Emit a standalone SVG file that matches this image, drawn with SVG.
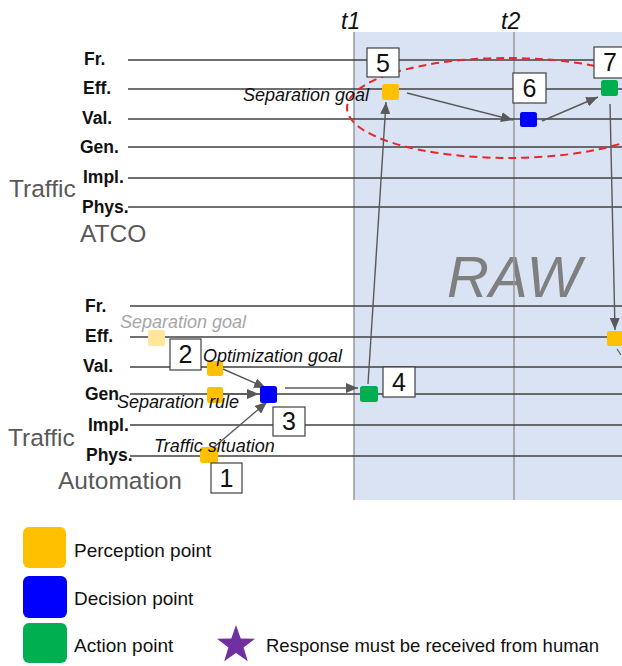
<svg xmlns="http://www.w3.org/2000/svg" width="622" height="666" viewBox="0 0 622 666">
<defs>
<marker id="ah" viewBox="0 0 12 10" refX="12" refY="5" markerWidth="12" markerHeight="10" markerUnits="userSpaceOnUse" orient="auto">
<path d="M0,0 L12,5 L0,10 Z" fill="#595959"/>
</marker>
<style>
.lvl{font-family:"Liberation Sans",Arial,sans-serif;font-weight:bold;font-size:17.5px;fill:#111}
.big{font-family:"Liberation Sans",Arial,sans-serif;font-size:24.5px;fill:#595959}
.it{font-family:"Liberation Sans",Arial,sans-serif;font-style:italic;font-size:18px;fill:#111}
.num{font-family:"Liberation Sans",Arial,sans-serif;font-size:25px;fill:#111;text-anchor:middle}
.tt{font-family:"Liberation Sans",Arial,sans-serif;font-style:italic;font-size:23px;fill:#111}
.leg{font-family:"Liberation Sans",Arial,sans-serif;font-size:19px;fill:#111}
.hl{stroke:#404040;stroke-width:1.5}
.vl{stroke:#999;stroke-width:1.5}
.box{fill:#fff;stroke:#404040;stroke-width:1.2}
.ar{stroke:#595959;stroke-width:1.4;fill:none;marker-end:url(#ah)}
.y{fill:#FFC000}
.b{fill:#0000FF}
.g{fill:#00B050}
</style>
</defs>
<rect x="354" y="32" width="268" height="468" fill="#DAE3F3"/>
<text x="447" y="297" font-family="Liberation Sans,Arial,sans-serif" font-style="italic" font-size="58" fill="#7F7F7F">RAW</text>
<g id="timelines">
<line class="vl" x1="354" y1="32" x2="354" y2="500"/>
<line class="vl" x1="514" y1="32" x2="514" y2="500"/>
<text class="tt" x="341" y="29">t1</text>
<text class="tt" x="501" y="29">t2</text>
</g>
<g id="atco-levels">
<line class="hl" x1="128" y1="60" x2="622" y2="60"/>
<line class="hl" x1="128" y1="89" x2="622" y2="89"/>
<line class="hl" x1="128" y1="119" x2="622" y2="119"/>
<line class="hl" x1="128" y1="147" x2="622" y2="147"/>
<line class="hl" x1="128" y1="178" x2="622" y2="178"/>
<line class="hl" x1="128" y1="207" x2="622" y2="207"/>
<text class="lvl" x="84" y="65">Fr.</text>
<text class="lvl" x="83" y="94">Eff.</text>
<text class="lvl" x="82" y="124">Val.</text>
<text class="lvl" x="80" y="153">Gen.</text>
<text class="lvl" x="83" y="183">Impl.</text>
<text class="lvl" x="82" y="213">Phys.</text>
<text class="big" x="9" y="197">Traffic</text>
<text class="big" x="80" y="242">ATCO</text>
</g>
<g id="auto-levels">
<line class="hl" x1="130" y1="306" x2="622" y2="306"/>
<line class="hl" x1="130" y1="337" x2="622" y2="337"/>
<line class="hl" x1="130" y1="367" x2="622" y2="367"/>
<line class="hl" x1="130" y1="394" x2="622" y2="394"/>
<line class="hl" x1="130" y1="425" x2="622" y2="425"/>
<line class="hl" x1="130" y1="456" x2="622" y2="456"/>
<text class="lvl" x="85" y="312">Fr.</text>
<text class="lvl" x="85" y="342">Eff.</text>
<text class="lvl" x="83" y="372">Val.</text>
<text class="lvl" x="85" y="400">Gen</text>
<text class="lvl" x="88" y="431">Impl.</text>
<text class="lvl" x="86" y="461">Phys.</text>
<text class="big" x="8" y="446">Traffic</text>
<text class="big" x="58" y="489">Automation</text>
</g>
<ellipse id="focus" cx="508" cy="108" rx="161" ry="50" fill="none" stroke="#E8262B" stroke-width="2" stroke-dasharray="8 5"/>
<g id="connectors">
<line class="ar" x1="407" y1="93" x2="513" y2="120"/>
<line class="ar" x1="542" y1="121" x2="598" y2="97"/>
<line class="ar" x1="368" y1="384" x2="386" y2="102"/>
<line class="ar" x1="610" y1="104" x2="615" y2="330"/>
<line class="ar" x1="223" y1="369" x2="266" y2="388"/>
<line class="ar" x1="223" y1="394" x2="259" y2="394"/>
<line class="ar" x1="213" y1="448" x2="267" y2="402"/>
<line class="ar" x1="285" y1="388" x2="358" y2="388"/>
<path d="M617,349 L621,355" stroke="#595959" stroke-width="1.2" fill="none"/>
</g>
<g id="faded-sep-goal">
<rect x="148" y="330" width="17" height="16" rx="2.5" fill="#FFE699"/>
<text class="it" x="120" y="328" style="fill:#A6A6A6">Separation goal</text>
</g>
<g id="node1">
<rect class="y" x="200" y="447" width="18" height="16" rx="2.5"/>
<text class="it" x="154" y="452">Traffic situation</text>
<rect class="box" x="211" y="463" width="31" height="30"/>
<text class="num" x="226.5" y="487">1</text>
</g>
<g id="node2">
<rect class="box" x="170" y="339" width="31" height="31"/>
<text class="num" x="185.5" y="363">2</text>
<rect class="y" x="207" y="361" width="16" height="15" rx="2.5"/>
<text class="it" x="203" y="362">Optimization goal</text>
<rect class="y" x="207" y="387" width="16" height="16" rx="2.5"/>
<text class="it" x="117" y="408">Separation rule</text>
</g>
<g id="node3">
<rect class="b" x="260" y="386" width="17" height="17" rx="2.5"/>
<rect class="box" x="273" y="407" width="32" height="29"/>
<text class="num" x="289" y="430">3</text>
</g>
<g id="node4">
<rect class="g" x="360" y="386" width="18" height="16" rx="2.5"/>
<rect class="box" x="383" y="367" width="32" height="30"/>
<text class="num" x="399" y="391">4</text>
</g>
<g id="node5">
<rect class="box" x="367" y="48" width="32" height="29"/>
<text class="num" x="383" y="72">5</text>
<rect class="y" x="382" y="84" width="17" height="16" rx="2.5"/>
<text class="it" x="243" y="101">Separation goal</text>
</g>
<g id="node6">
<rect class="box" x="513" y="73" width="33" height="30"/>
<text class="num" x="529.5" y="97">6</text>
<rect class="b" x="520" y="112" width="17" height="15" rx="2.5"/>
</g>
<g id="node7">
<rect class="box" x="594" y="47" width="32" height="31"/>
<text class="num" x="610" y="71">7</text>
<rect class="g" x="601" y="80" width="17" height="16" rx="2.5"/>
</g>
<g id="node8">
<rect class="y" x="607" y="331" width="18" height="15" rx="2.5"/>
</g>
<g id="legend">
<rect class="y" x="23" y="527" width="43" height="41" rx="6"/>
<text class="leg" x="74" y="557">Perception point</text>
<rect class="b" x="23" y="576" width="44" height="42" rx="6"/>
<text class="leg" x="74" y="605">Decision point</text>
<rect class="g" x="23" y="623" width="44" height="40" rx="6"/>
<text class="leg" x="74" y="652">Action point</text>
<polygon fill="#7030A0" points="236,625 240.7,638.5 255,638.8 243.6,647.5 247.8,661.2 236,653 224.2,661.2 228.4,647.5 217,638.8 231.3,638.5"/>
<text class="leg" x="266" y="652" style="font-size:18.5px">Response must be received from human</text>
</g>
</svg>
